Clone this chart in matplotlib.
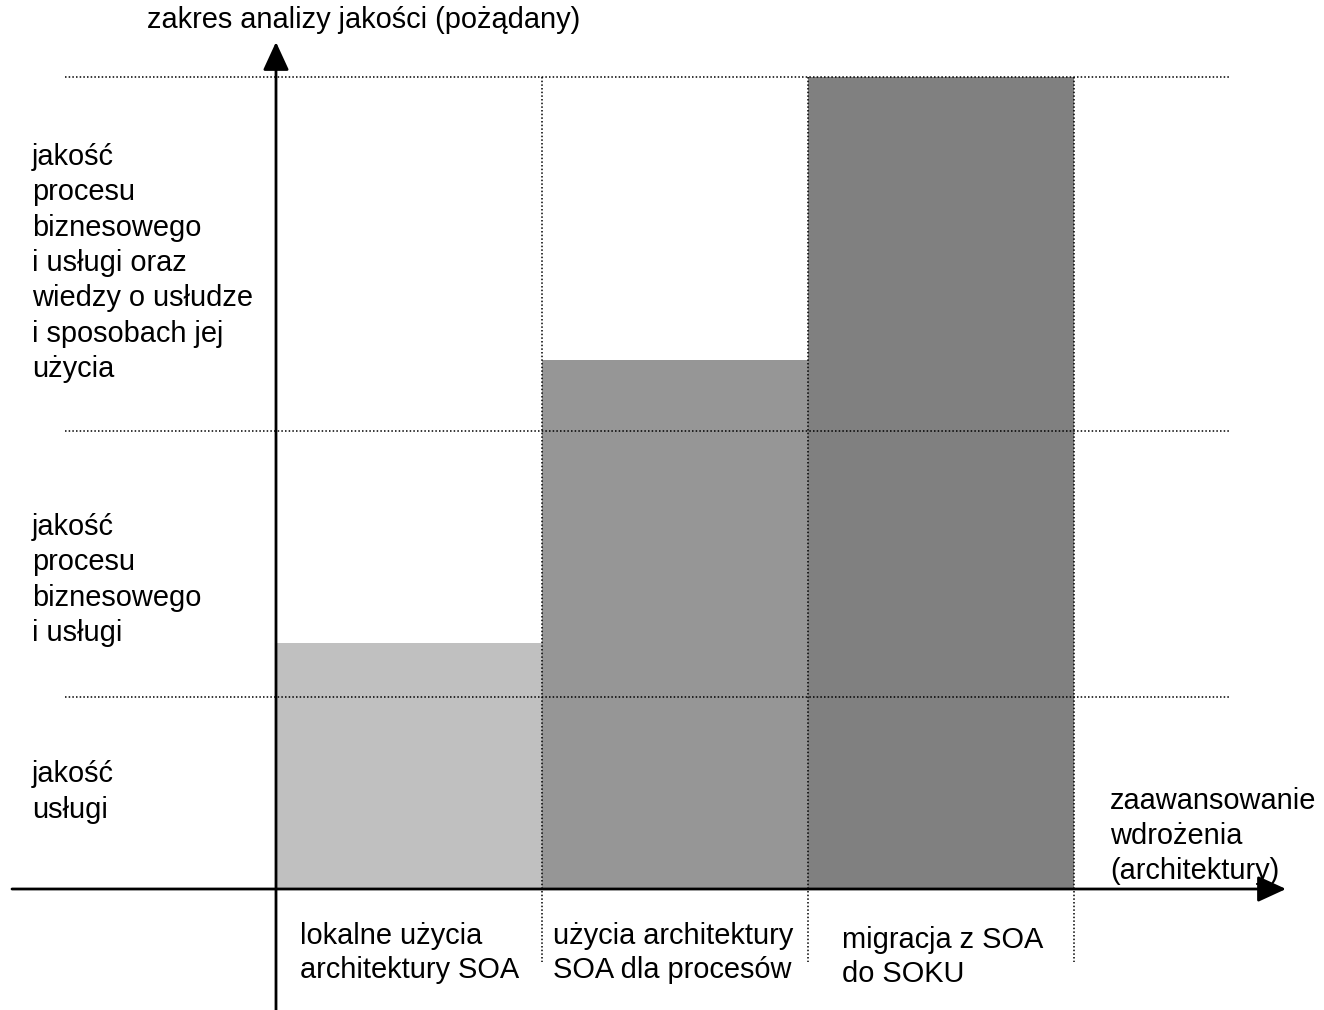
import matplotlib
matplotlib.use("Agg")
import matplotlib.pyplot as plt

# ---- data ----
categories = ["lokalne użycia\narchitektury SOA",
              "użycia architektury\nSOA dla procesów",
              "migracja z SOA\ndo SOKU"]
bar_heights = [0.302, 0.651, 1.0]          # desired quality-analysis scope
bar_colors = ["#c0c0c0", "#969696", "#808080"]
band_bounds = [0.235, 0.563, 1.0]          # upper bounds of the quality bands
band_labels = ["jakość\nusługi",
               "jakość\nprocesu\nbiznesowego\ni usługi",
               "jakość\nprocesu\nbiznesowego\ni usługi oraz\nwiedzy o usłudze\ni sposobach jej\nużycia"]
y_title = "zakres analizy jakości (pożądany)"
x_title = "zaawansowanie\nwdrożenia\n(architektury)"

W, H = 1324, 1010
plt.rcParams['font.family'] = ['Liberation Sans', 'DejaVu Sans']
fig = plt.figure(figsize=(W / 100, H / 100), dpi=100)
ax = fig.add_axes([0, 0, 1, 1])
ax.set_axis_off()

# pixel -> data mapping for layout
X0, UX = 276, 266.0     # y-axis pixel position, px per category
Y0, UY = 888, 811.0     # baseline pixel position, px per unit height
def dx(px): return (px - X0) / UX
def dy(py): return (Y0 - py) / UY

ax.set_xlim(dx(0), dx(W))
ax.set_ylim(dy(H), dy(0))

# bars
xs = [i + 0.5 for i in range(len(categories))]
ax.bar(xs, bar_heights, width=1.0, color=bar_colors, edgecolor='none', zorder=1)

# dotted band lines
dot = dict(color='black', lw=1.1, linestyle=(0, (1, 1.4)), zorder=3)
for b in band_bounds:
    ax.plot([dx(65), dx(1230)], [b, b], **dot)
# dotted vertical separators
for i in range(1, len(categories) + 1):
    ax.plot([i, i], [band_bounds[-1], dy(962)], **dot)

# axes with arrows
arr = dict(arrowstyle='-|>,head_length=0.87,head_width=0.4', color='black',
           lw=2.0, shrinkA=0, shrinkB=0, mutation_scale=20)
ax.annotate('', xy=(dx(1286), dy(889)), xytext=(dx(12), dy(889)),
            arrowprops=arr, zorder=5)
ax.annotate('', xy=(dx(276), dy(42)), xytext=(dx(276), dy(1010)),
            arrowprops=arr, zorder=5)

fs = 20.9
def ftext(px, py, s, va='center', ls=1.33):
    fig.text(px / W, 1 - py / H, s, fontsize=fs, ha='left', va=va,
             linespacing=ls, color='black')

ftext(147, 20, y_title)
ftext(1110, 836, x_title)
band_centers = [792, 580, 263]
for lab, cy in zip(band_labels, band_centers):
    ftext(32, cy, lab)
cat_left = [300, 553, 842]
cat_cy = [953, 953, 957]
for lab, lx, cy in zip(categories, cat_left, cat_cy):
    ftext(lx, cy, lab, ls=1.23)

fig.savefig("out.png", dpi=100)
